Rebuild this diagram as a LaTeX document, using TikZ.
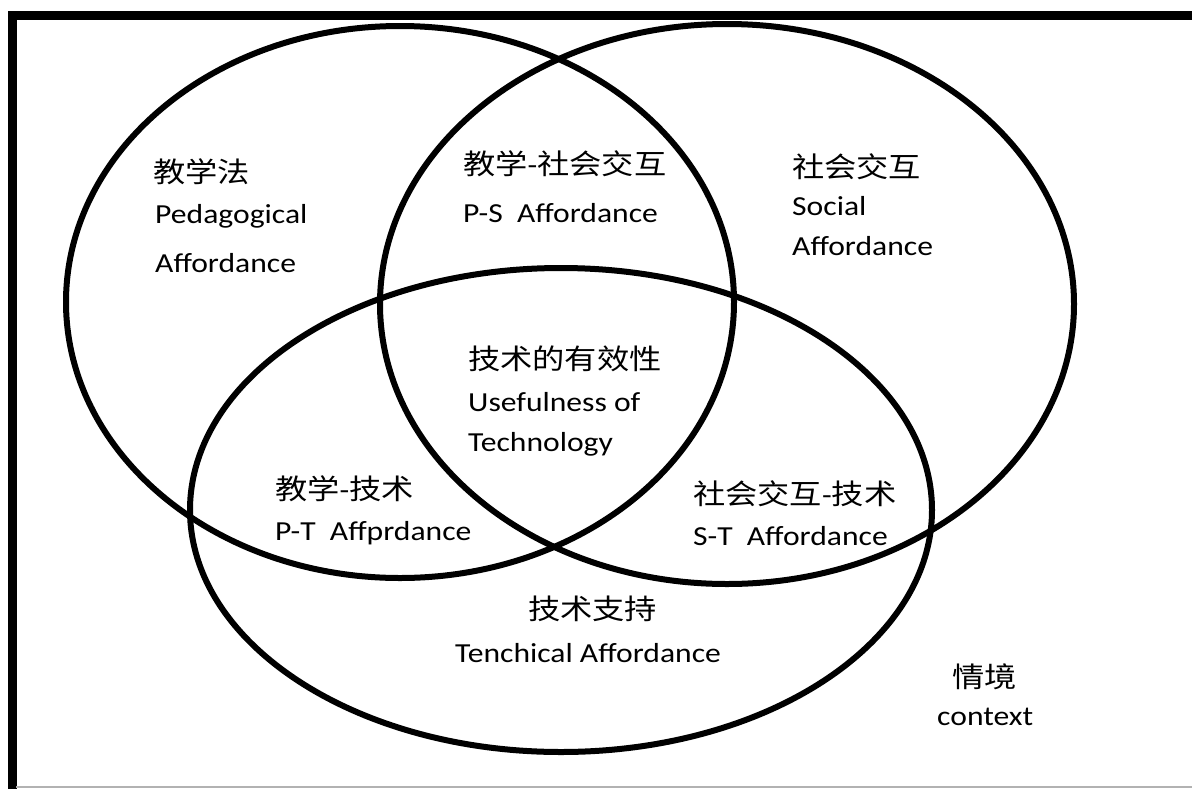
\documentclass[tikz,border=0pt]{standalone}
\usepackage{fontspec}
\setmainfont[FakeStretch=1.15]{Carlito}
\newfontfamily\cjk[FakeStretch=1.15,Scale=1.02]{Noto Sans CJK SC}
\begin{document}
\begin{tikzpicture}[x=1pt,y=-1pt,
  lbl/.style={anchor=base west, inner sep=0pt, font=\fontsize{27.5}{31}\selectfont},
  venn/.style={draw=black, line width=6pt},
  frame/.style={line width=9pt}]
\useasboundingbox (0,0) rectangle (1192,788);
\fill[white] (0,0) rectangle (1192,788);
\draw[frame] (1205,15) -- (12,15) -- (12,805);
\draw[gray!60, line width=1.5pt] (16,787) -- (1192,787);
% ellipses
\draw[venn] (400,302) ellipse [x radius=334, y radius=276];
\draw[venn] (727,304) ellipse [x radius=347, y radius=280];
\draw[venn] (561,510) ellipse [x radius=371, y radius=242];
% labels
\node[lbl] (pzh) at (153,182) {{\cjk 教学法}};
\node[lbl] (pen1) at (155,223) {Pedagogical};
\node[lbl] (pen2) at (155,272) {Affordance};
\node[lbl] (pszh) at (463,174) {{\cjk 教学}-{\cjk 社会交互}};
\node[lbl] (psen) at (463,222) {P-S\ \ Affordance};
\node[lbl] (szh) at (792,177) {{\cjk 社会交互}};
\node[lbl] (sen1) at (792,215) {Social};
\node[lbl] (sen2) at (792,255) {Affordance};
\node[lbl] (uzh) at (468,369) {{\cjk 技术的有效性}};
\node[lbl] (uen1) at (468,411) {Usefulness of};
\node[lbl] (uen2) at (468,451) {Technology};
\node[lbl] (ptzh) at (275,499) {{\cjk 教学}-{\cjk 技术}};
\node[lbl] (pten) at (275,540) {P-T\ \ Affprdance};
\node[lbl] (stzh) at (693,504) {{\cjk 社会交互}-{\cjk 技术}};
\node[lbl] (sten) at (693,545) {S-T\ \ Affordance};
\node[lbl] (tzh) at (528,619) {{\cjk 技术支持}};
\node[lbl] (ten) at (455,662) {Tenchical Affordance};
\node[lbl] (czh) at (952,687) {{\cjk 情境}};
\node[lbl] (cen) at (937,725) {context};
\end{tikzpicture}
\end{document}
